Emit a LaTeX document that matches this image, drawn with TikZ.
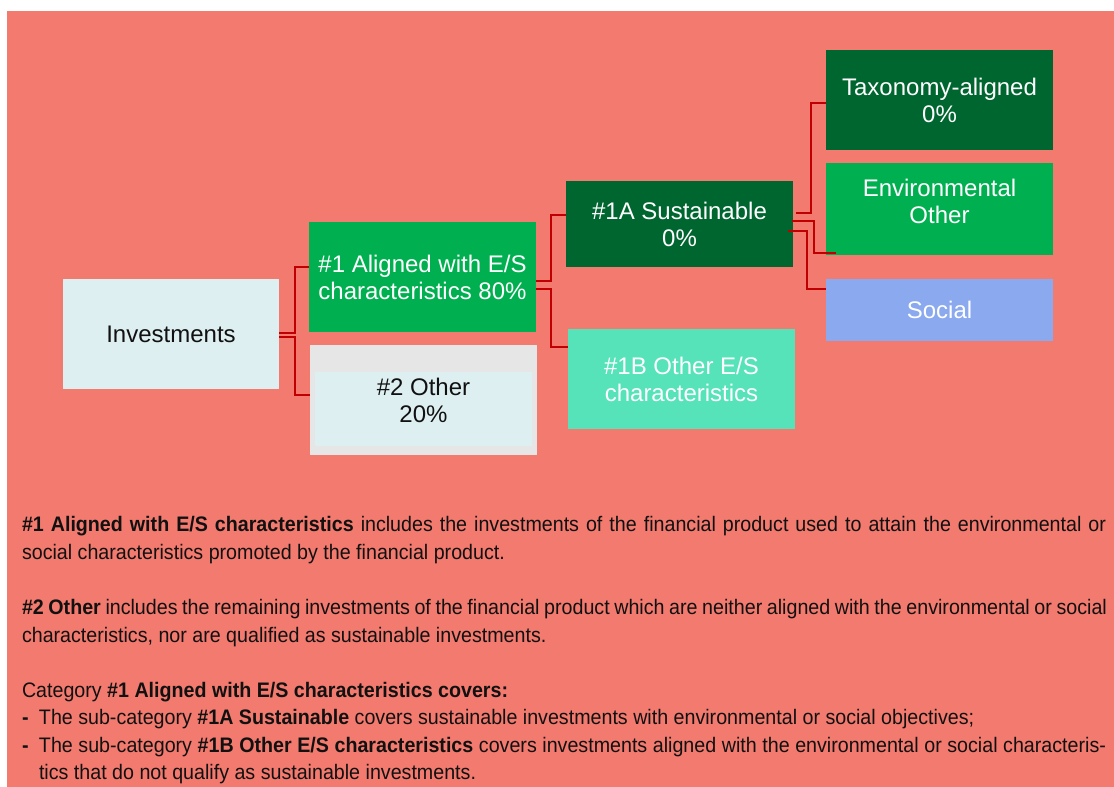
\documentclass[tikz,border=0pt]{standalone}
\usepackage{fontspec}
\setmainfont{Liberation Sans}
\newfontfamily\narrowfont[FakeStretch=0.936]{Liberation Sans}
\definecolor{salmon}{HTML}{F27A6E}
\definecolor{lightbx}{HTML}{DEEFF2}
\definecolor{greybx}{HTML}{E6E6E6}
\definecolor{midgreen}{HTML}{00B050}
\definecolor{darkgreen}{HTML}{006630}
\definecolor{mint}{HTML}{57E3B9}
\definecolor{socialblue}{HTML}{8AA9EE}
\definecolor{linkred}{HTML}{C00000}
\definecolor{txtdark}{HTML}{111111}
\begin{document}
\begin{tikzpicture}[x=1pt,y=-1pt,
  box/.style={rectangle, inner sep=0pt, outer sep=0pt, minimum width=227pt, align=center,
    font=\fontsize{24}{27}\selectfont, text=white},
  conn/.style={draw=linkred, line width=2pt},
  bodytext/.style={anchor=base west, inner sep=0pt, outer sep=0pt,
    font=\narrowfont\fontsize{21}{27}\selectfont, text=txtdark}]
\useasboundingbox (0,0) rectangle (1114,787);
\fill[white] (0,0) rectangle (1114,787);
\fill[salmon] (7,11) rectangle (1114,787);

% boxes
\node[box, fill=lightbx, text=txtdark, minimum width=216pt, minimum height=110pt] (inv) at (171,334) {Investments};
\node[box, fill=midgreen, minimum height=110pt] (a1) at (422.5,277) {\#1 Aligned with E/S\\characteristics 80\%};
\node[box, fill=greybx, minimum height=110pt] (oth) at (423.5,400) {};
\node[box, fill=lightbx, minimum width=217pt, minimum height=74pt] (othin) at (423.5,409) {};
\node[box, text=txtdark] (othtxt) at (oth.center) {\#2 Other\\20\%};
\node[box, fill=darkgreen, minimum height=86pt] (s1a) at (679.5,224) {\#1A Sustainable\\0\%};
\node[box, fill=mint, minimum height=100pt] (b1) at (681.5,379) {\#1B Other E/S\\characteristics};
\node[box, fill=darkgreen, minimum height=100pt] (tax) at (939.5,100) {Taxonomy-aligned\\0\%};
\node[box, fill=midgreen, minimum height=92pt] (env) at (939.5,209) {};
\node[box] (envtxt) at (939.5,201) {Environmental\\Other};
\node[box, fill=socialblue, minimum height=62pt] (soc) at (939.5,310) {Social};

% connectors
\draw[conn] ([yshift=1pt]inv.east) -- ++(16,0) |- ([yshift=10pt]a1.west);
\draw[conn] ([yshift=-3pt]inv.east) -- ++(16,0) |- ([yshift=5pt]oth.west);
\draw[conn] ([yshift=-4pt]a1.east) -- ++(15,0) |- ([yshift=9pt]s1a.west);
\draw[conn] ([yshift=-12pt]a1.east) -- ++(15,0) |- ([yshift=32pt]b1.west);
\draw[conn] ([xshift=3pt,yshift=11pt]s1a.east) -- ++(15,0) |- ([yshift=-3pt]tax.west);
\draw[conn] ([xshift=-1pt,yshift=3pt]s1a.east) -- ++(22,0) |- ([xshift=10pt,yshift=-44pt]env.west);
\draw[conn] ([xshift=-5pt,yshift=-7pt]s1a.east) -- ++(19,0) |- ([yshift=21pt]soc.west);

% explanatory text
\node[bodytext] (p1a) at (22,531) {\makebox[1084pt][s]{\textbf{\#1 Aligned with E/S characteristics} includes the investments of the financial product used to attain the environmental or}};
\node[bodytext] (p1b) at (22,559) {social characteristics promoted by the financial product.};
\node[bodytext] (p2a) at (22,614) {\makebox[1085pt][s]{\textbf{\#2 Other} includes the remaining investments of the financial product which are neither aligned with the environmental or social}};
\node[bodytext] (p2b) at (22,642) {characteristics, nor are qualified as sustainable investments.};
\node[bodytext] (p3a) at (22,697) {Category \textbf{\#1 Aligned with E/S characteristics covers:}};
\node[bodytext] (p3b) at (22,724) {\makebox[17pt][l]{\textbf{-}}The sub-category \textbf{\#1A Sustainable} covers sustainable investments with environmental or social objectives;};
\node[bodytext] (p3c) at (22,752) {\makebox[1084pt][s]{\makebox[17pt][l]{\textbf{-}}The sub-category \textbf{\#1B Other E/S characteristics} covers investments aligned with the environmental or social characteris-}};
\node[bodytext] (p3d) at (39,779) {tics that do not qualify as sustainable investments.};
\end{tikzpicture}
\end{document}
